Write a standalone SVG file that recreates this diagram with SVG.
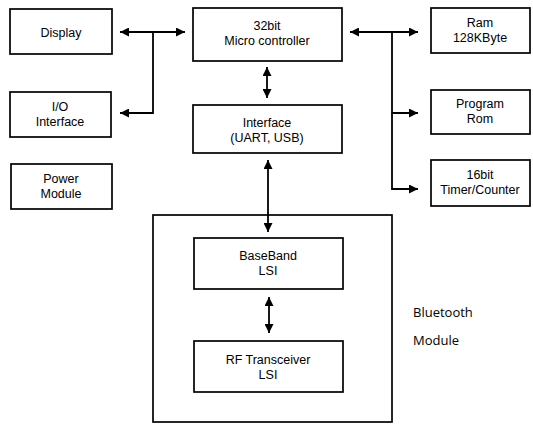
<svg xmlns="http://www.w3.org/2000/svg" width="533" height="425" viewBox="0 0 533 425">
<defs>
<marker id="ah" viewBox="0 0 10 10" refX="10" refY="5" markerWidth="11" markerHeight="9" markerUnits="userSpaceOnUse" orient="auto-start-reverse">
<path d="M0,0 L10,5 L0,10 z" fill="#000"/>
</marker>
<style>
.box{fill:#fff;stroke:#000;stroke-width:1.7}
.t{font-family:"Liberation Sans",Arial,sans-serif;font-size:12.5px;fill:#000;text-anchor:middle}
.c{fill:none;stroke:#000;stroke-width:1.8}
.lbl{font-family:"Open Sans","Noto Sans",sans-serif;font-size:13px;fill:#000}
</style>
</defs>
<rect width="533" height="425" fill="#fff"/>
<g id="bluetooth-module">
<rect class="box" x="153" y="215" width="239" height="207"/>
<text class="lbl" x="413" y="317">Bluetooth</text>
<text class="lbl" x="413" y="345">Module</text>
</g>
<g id="display"><rect class="box" x="10" y="9" width="102" height="45"/><text class="t" x="61" y="37">Display</text></g>
<g id="io"><rect class="box" x="10" y="92" width="101" height="45"/><text class="t" x="60" y="111">I/O</text><text class="t" x="60" y="126">Interface</text></g>
<g id="power"><rect class="box" x="11" y="164" width="101" height="45"/><text class="t" x="61" y="183">Power</text><text class="t" x="61" y="198">Module</text></g>
<g id="mcu"><rect class="box" x="193" y="8" width="149" height="53"/><text class="t" x="267" y="30">32bit</text><text class="t" x="267" y="45">Micro controller</text></g>
<g id="interface"><rect class="box" x="193" y="105" width="149" height="48"/><text class="t" x="267" y="127">Interface</text><text class="t" x="267" y="142">(UART, USB)</text></g>
<g id="ram"><rect class="box" x="431" y="8" width="99" height="45"/><text class="t" x="480" y="27">Ram</text><text class="t" x="480" y="42">128KByte</text></g>
<g id="rom"><rect class="box" x="431" y="90" width="99" height="44"/><text class="t" x="480" y="108">Program</text><text class="t" x="480" y="123">Rom</text></g>
<g id="timer"><rect class="box" x="431" y="160" width="99" height="46"/><text class="t" x="480" y="179">16bit</text><text class="t" x="480" y="194">Timer/Counter</text></g>
<g id="baseband"><rect class="box" x="194" y="238" width="149" height="51"/><text class="t" x="268" y="260">BaseBand</text><text class="t" x="268" y="275">LSI</text></g>
<g id="rf"><rect class="box" x="194" y="341" width="149" height="51"/><text class="t" x="268" y="364">RF Transceiver</text><text class="t" x="268" y="379">LSI</text></g>
<g id="connectors">
<path class="c" d="M120,32 L185,32" marker-start="url(#ah)" marker-end="url(#ah)"/>
<path class="c" d="M153,32 L153,113 L120,113" marker-end="url(#ah)"/>
<path class="c" d="M350,32 L418,32" marker-start="url(#ah)" marker-end="url(#ah)"/>
<path class="c" d="M392,32 L392,113 L418,113" marker-end="url(#ah)"/>
<path class="c" d="M392,113 L392,189 L418,189" marker-end="url(#ah)"/>
<path class="c" d="M267,67 L267,98" marker-start="url(#ah)" marker-end="url(#ah)"/>
<path class="c" d="M268,160 L268,232" marker-start="url(#ah)" marker-end="url(#ah)"/>
<path class="c" d="M269,297 L269,333" marker-start="url(#ah)" marker-end="url(#ah)"/>
</g>
</svg>
